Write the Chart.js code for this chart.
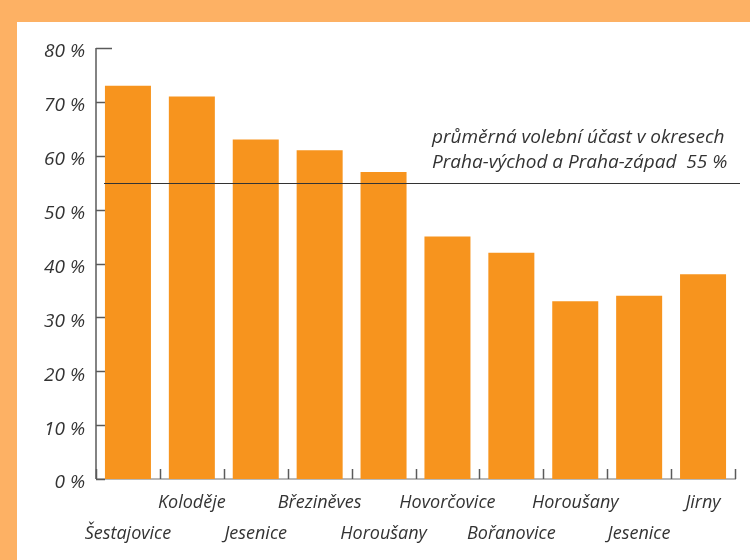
<!DOCTYPE html>
<html>
<head>
<meta charset="utf-8">
<script src="https://cdn.jsdelivr.net/npm/chart.js@4"></script>
<style>
  html, body { margin:0; padding:0; }
  body { width:750px; height:560px; background:#FDB164; position:relative; overflow:hidden; }
  #panel { position:absolute; left:17px; top:22px; width:733px; height:538px; background:#fff; }
</style>
</head>
<body>
<div id="panel"><canvas id="c"></canvas></div>
<script>
const categories = ['Šestajovice','Koloděje','Jesenice','Březiněves','Horoušany','Hovorčovice','Bořanovice','Horoušany','Jesenice','Jirny'];
const turnout = [73, 71, 63, 61, 57, 45, 42, 33, 34, 38];
const averageTurnout = [55];
const averageLabel = ['průměrná volební účast v okresech', 'Praha-východ a Praha-západ  55 %'];
const yTicks = [0, 10, 20, 30, 40, 50, 60, 70, 80];

const FONT = '"Open Sans", Lato, sans-serif';
const TEXT = '#333333';

// staggered labels: even index on lower row, odd on upper row
const xLabels = categories.map((c, i) => i % 2 === 0 ? ['', c] : [c, '']);

const axisPlugin = {
  id: 'axisDecor',
  beforeDatasetsDraw(chart) {
    const ctx = chart.ctx;
    const ys = chart.scales.y, xs = chart.scales.x;
    const left = chart.chartArea.left, right = chart.chartArea.right;
    const bottom = ys.getPixelForValue(0), top = ys.getPixelForValue(80);
    ctx.save();
    ctx.strokeStyle = '#a0a0a0';
    ctx.lineWidth = 1.5;
    ctx.beginPath(); ctx.moveTo(left, bottom); ctx.lineTo(right + 1, bottom); ctx.stroke();
    ctx.strokeStyle = '#5a5a5a';
    ctx.lineWidth = 1.5;
    ctx.beginPath(); ctx.moveTo(left, top); ctx.lineTo(left, bottom); ctx.stroke();
    yTicks.forEach(v => {
      const y = Math.round(ys.getPixelForValue(v)) + 0.5;
      ctx.beginPath(); ctx.moveTo(left, y); ctx.lineTo(left + (v === 80 ? 16 : 9), y); ctx.stroke();
    });
    const step = xs.getPixelForValue(1) - xs.getPixelForValue(0);
    for (let i = 0; i <= categories.length; i++) {
      const x = Math.round(xs.getPixelForValue(i) - step / 2) + 0.5;
      ctx.beginPath(); ctx.moveTo(x, bottom - 10); ctx.lineTo(x, bottom); ctx.stroke();
    }
    ctx.restore();
  },
  afterDatasetsDraw(chart) {
    const ctx = chart.ctx;
    const ys = chart.scales.y;
    const y = Math.round(ys.getPixelForValue(averageTurnout[0])) + 0.5;
    ctx.save();
    ctx.strokeStyle = '#333';
    ctx.lineWidth = 1.2;
    ctx.beginPath();
    ctx.moveTo(chart.chartArea.left + 8, y);
    ctx.lineTo(chart.chartArea.right + 5, y);
    ctx.stroke();
    ctx.fillStyle = TEXT;
    ctx.font = 'italic 19px ' + FONT;
    ctx.textBaseline = 'middle';
    ctx.textAlign = 'left';
    ctx.fillText(averageLabel[0], 415, y - 46);
    ctx.fillText(averageLabel[1], 415, y - 21);
    ctx.restore();
  }
};

new Chart(document.getElementById('c'), {
  type: 'bar',
  data: {
    labels: xLabels,
    datasets: [{
      data: turnout,
      backgroundColor: '#F7941E',
      borderWidth: 0,
      categoryPercentage: 1,
      barPercentage: 0.72
    }]
  },
  options: {
    responsive: true,
    maintainAspectRatio: false,
    animation: false,
    layout: { padding: { top: 26, right: 15, left: 0, bottom: 0 } },
    plugins: { legend: { display: false }, tooltip: { enabled: false } },
    scales: {
      x: {
        grid: { display: false, drawTicks: false },
        border: { display: false },
        ticks: {
          color: TEXT,
          font: { family: FONT, size: 18, style: 'italic', lineHeight: 1.72 },
          padding: 8,
          maxRotation: 0,
          autoSkip: false
        },
        afterFit(s) { s.height = 81; }
      },
      y: {
        min: 0, max: 80,
        grid: { display: false, drawTicks: false },
        border: { display: false },
        ticks: {
          stepSize: 10,
          color: TEXT,
          padding: 11,
          labelOffset: 4,
          font: { family: FONT, size: 19, style: 'italic' },
          callback: v => v + ' %'
        },
        afterFit(s) { s.width = 79; }
      }
    }
  },
  plugins: [axisPlugin]
});
</script>
</body>
</html>
